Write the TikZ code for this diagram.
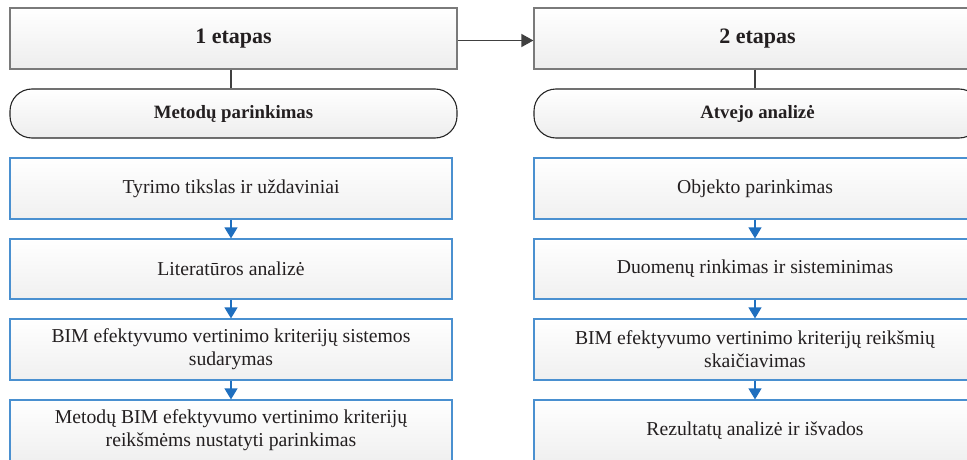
\documentclass[tikz,border=0pt]{standalone}
\usepackage{fontspec}
\setmainfont{Liberation Serif}
\usetikzlibrary{arrows.meta}
\definecolor{grayline}{HTML}{7A7A7A}
\definecolor{blueline}{HTML}{4A90D0}
\definecolor{bluearrow}{HTML}{1F6FBF}
\definecolor{txt}{HTML}{231F20}
\tikzset{
  stagebox/.style={draw=grayline, line width=1.2pt, top color=white, bottom color=black!7,
    minimum width=447pt, minimum height=61pt, inner sep=0pt, text=txt,
    font=\bfseries\fontsize{22}{26}\selectfont},
  phasebox/.style={draw=black!85, line width=1.1pt, top color=white, bottom color=black!7,
    rounded corners=22pt, minimum width=447pt, minimum height=49pt, inner sep=0pt, text=txt,
    font=\bfseries\fontsize{18.8}{22}\selectfont},
  stepbox/.style={draw=blueline, line width=1.2pt, top color=white, bottom color=black!6,
    minimum width=442pt, minimum height=61pt, inner sep=0pt, text=txt, align=center,
    font=\fontsize{19.7}{23}\selectfont},
  flow/.style={draw=bluearrow, line width=1.2pt, -{Triangle[width=13pt,length=11pt]}},
  link/.style={draw=black!75, line width=1.5pt},
}
\begin{document}
\begin{tikzpicture}[x=1pt,y=-1pt]
\useasboundingbox (0,0) rectangle (967,460);
\clip (0,0) rectangle (967,460);
% stages
\node[stagebox] (e1) at (233.5,38.5) {1 etapas};
\node[stagebox] (e2) at (757.5,38.5) {2 etapas};
\node[phasebox] (m1) at (233.5,113.5) {Metodų parinkimas};
\node[phasebox] (m2) at (757.5,113.5) {Atvejo analizė};
% left column
\node[stepbox] (a1) at (231,188.5) {Tyrimo tikslas ir uždaviniai};
\node[stepbox, minimum height=60pt] (a2) at (231,269) {Literatūros analizė};
\node[stepbox] (a3) at (231,349.5) {BIM efektyvumo vertinimo kriterijų sistemos\\sudarymas};
\node[stepbox] (a4) at (231,430.5) {Metodų BIM efektyvumo vertinimo kriterijų\\reikšmėms nustatyti parinkimas};
% right column
\node[stepbox] (b1) at (755,188.5) {Objekto parinkimas};
\node[stepbox, minimum height=60pt] (b2) at (755,269) {Duomenų rinkimas ir sisteminimas};
\node[stepbox] (b3) at (755,349.5) {BIM efektyvumo vertinimo kriterijų reikšmių\\skaičiavimas};
\node[stepbox] (b4) at (755,430.5) {Rezultatų analizė ir išvados};
% connectors
\draw[link, -{Triangle[width=13pt,length=12pt]}] ([yshift=-2pt]e1.east) -- ([yshift=-2pt]e2.west);
\draw[link] (e1.south -| a1) -- (m1.north -| a1);
\draw[link] (e2.south -| b1) -- (m2.north -| b1);
\draw[flow] (a1) -- (a2);
\draw[flow] (a2) -- (a3);
\draw[flow] (a3) -- (a4);
\draw[flow] (b1) -- (b2);
\draw[flow] (b2) -- (b3);
\draw[flow] (b3) -- (b4);
\end{tikzpicture}
\end{document}
